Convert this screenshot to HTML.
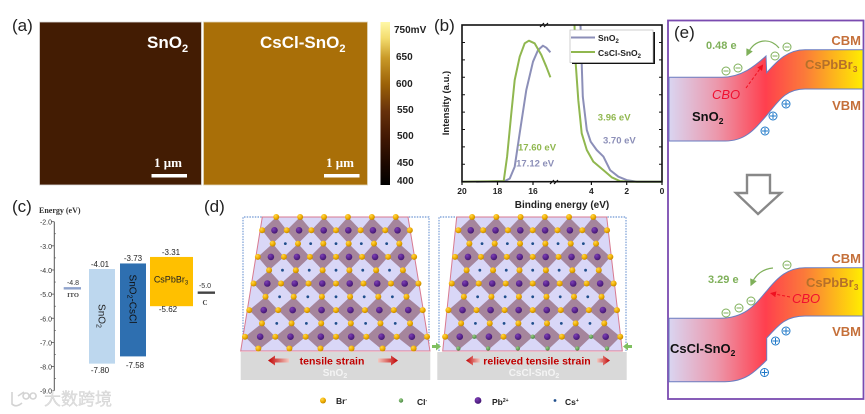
<!DOCTYPE html>
<html>
<head>
<meta charset="utf-8">
<title>SnO2 and CsCl-SnO2 composite figure</title>
<style>
html,body{margin:0;padding:0;background:#fff;width:865px;height:414px;overflow:hidden}
svg{display:block;font-family:"Liberation Sans","Noto Sans CJK SC",sans-serif;filter:blur(.35px)}
.b{font-weight:700}
.s{font-family:"Liberation Serif",serif;font-weight:700}
</style>
</head>
<body>
<svg id="fig" xmlns="http://www.w3.org/2000/svg" width="865" height="414" viewBox="0 0 865 414">
<defs>
<linearGradient id="cbar" x1="0" y1="0" x2="0" y2="1">
<stop offset="0" stop-color="#fff8a8"/><stop offset=".1" stop-color="#f3dc6e"/><stop offset=".22" stop-color="#c99a28"/><stop offset=".38" stop-color="#9c6208"/><stop offset=".55" stop-color="#66300a"/><stop offset=".72" stop-color="#3f1602"/><stop offset=".88" stop-color="#1a0700"/><stop offset="1" stop-color="#000"/>
</linearGradient>
<linearGradient id="band" x1="668" y1="0" x2="863" y2="0" gradientUnits="userSpaceOnUse">
<stop offset="0" stop-color="#d9d6f2"/><stop offset=".25" stop-color="#ec98ac"/><stop offset=".5" stop-color="#ff3f4e"/><stop offset=".7" stop-color="#fb7a3a"/><stop offset="1" stop-color="#ffee00"/>
</linearGradient>
<linearGradient id="arrL" x1="0" x2="1" y1="0" y2="0"><stop offset="0" stop-color="#c00000"/><stop offset="1" stop-color="#f4c8c0"/></linearGradient>
<linearGradient id="arrR" x1="0" x2="1" y1="0" y2="0"><stop offset="0" stop-color="#f4c8c0"/><stop offset="1" stop-color="#c00000"/></linearGradient>
<radialGradient id="br" cx=".35" cy=".3" r=".8"><stop offset="0" stop-color="#ffd84a"/><stop offset=".55" stop-color="#efac00"/><stop offset="1" stop-color="#b07c00"/></radialGradient>
<radialGradient id="pb" cx=".35" cy=".3" r=".8"><stop offset="0" stop-color="#7d3fb4"/><stop offset=".6" stop-color="#56228a"/><stop offset="1" stop-color="#3c1466"/></radialGradient>
<radialGradient id="cl" cx=".35" cy=".3" r=".8"><stop offset="0" stop-color="#9cd088"/><stop offset="1" stop-color="#3f7f3a"/></radialGradient>
<marker id="ga" markerWidth="6" markerHeight="6" refX="3" refY="3" orient="auto"><path d="M0,0 L6,3 L0,6 Z" fill="#7fb05a"/></marker>
<marker id="ra" markerWidth="6" markerHeight="6" refX="4" refY="3" orient="auto"><path d="M0,0 L6,3 L0,6 Z" fill="#f01020"/></marker>
</defs>

<!-- panel a -->
<g>
<text x="12" y="31" font-size="17" fill="#222">(a)</text>
<rect x="39.5" y="22" width="162" height="163" fill="#431c03" stroke="#ddd" stroke-width=".8"/>
<rect x="203.5" y="22" width="164" height="163" fill="#a96f08" stroke="#e2d7bb" stroke-width=".8"/>
<text x="147" y="48" font-size="17" class="b" fill="#fff">SnO<tspan dy="4" font-size="11">2</tspan></text>
<text x="260" y="48" font-size="17" class="b" fill="#fff">CsCl-SnO<tspan dy="4" font-size="11">2</tspan></text>
<text x="154" y="167" font-size="13" class="s" fill="#fff">1 μm</text>
<rect x="151.5" y="174" width="35.5" height="3.5" fill="#fff"/>
<text x="326" y="167" font-size="13" class="s" fill="#fff">1 μm</text>
<rect x="324" y="174" width="35.5" height="3.5" fill="#fff"/>
<rect x="380.5" y="22" width="9.5" height="163" fill="url(#cbar)"/>
<g font-size="10" class="b" fill="#222">
<text x="394" y="33">750mV</text>
<text x="396" y="60">650</text>
<text x="396" y="87">600</text>
<text x="397" y="113">550</text>
<text x="397" y="139">500</text>
<text x="397" y="166">450</text>
<text x="397" y="184">400</text>
</g>
</g>

<!-- panel b -->
<g id="panelB">
<text x="434" y="31" font-size="17" fill="#222">(b)</text>
<text transform="translate(449,103) rotate(-90)" text-anchor="middle" font-size="9.5" class="b" fill="#222">Intensity (a.u.)</text>
<text x="562" y="208" text-anchor="middle" font-size="10" class="b" fill="#222">Binding energy (eV)</text>
</g>

<!-- panel c -->
<g id="panelC">
<text x="12" y="212" font-size="17" fill="#222">(c)</text>
<text x="39" y="213" font-size="8" class="s" fill="#333">Energy (eV)</text>
</g>

<!-- panel d -->
<g id="panelD">
<text x="204" y="212" font-size="17" fill="#222">(d)</text>
</g>
<g>
<rect x="240.7" y="352" width="189.6" height="28" fill="#d9d9d9"/>
<rect x="437.3" y="352" width="189.4" height="28" fill="#d9d9d9"/>
<path d="M268,360.5 L275,355.5 L275,358.5 L289,358.5 L289,362.5 L275,362.5 L275,365.5 Z" fill="url(#arrL)"/>
<path d="M398,360.5 L391,355.5 L391,358.5 L378,358.5 L378,362.5 L391,362.5 L391,365.5 Z" fill="url(#arrR)"/>
<text x="332" y="364.5" text-anchor="middle" font-size="10.5" class="b" fill="#c00000">tensile strain</text>
<text x="335" y="376" text-anchor="middle" font-size="10" class="b" fill="#f4f4f4">SnO<tspan dy="2" font-size="7">2</tspan></text>
<path d="M466,360.5 L473,355.5 L473,358.5 L480,358.5 L480,362.5 L473,362.5 L473,365.5 Z" fill="url(#arrL)"/>
<path d="M610,360.5 L603,355.5 L603,358.5 L597,358.5 L597,362.5 L603,362.5 L603,365.5 Z" fill="url(#arrR)"/>
<text x="537" y="364.5" text-anchor="middle" font-size="10.5" class="b" fill="#c00000">relieved tensile strain</text>
<text x="534" y="376" text-anchor="middle" font-size="10" class="b" fill="#f4f4f4">CsCl-SnO<tspan dy="2" font-size="7">2</tspan></text>
<path d="M441,346.5 L436,342.5 L436,345 L432,345 L432,348 L436,348 L436,350.5 Z" fill="#7fc060"/>
<path d="M623,346.5 L628,342.5 L628,345 L632,345 L632,348 L628,348 L628,350.5 Z" fill="#7fc060"/>
<circle cx="323" cy="400.5" r="3" fill="url(#br)"/>
<text x="336" y="404" font-size="8.5" class="b" fill="#222">Br<tspan dy="-3" font-size="5">-</tspan></text>
<circle cx="401" cy="400.5" r="2.2" fill="url(#cl)"/>
<text x="417" y="405" font-size="8.5" class="b" fill="#222">Cl<tspan dy="-3" font-size="5">-</tspan></text>
<circle cx="478" cy="400.5" r="3.4" fill="url(#pb)"/>
<text x="492" y="405" font-size="8.5" class="b" fill="#222">Pb<tspan dy="-3" font-size="5">2+</tspan></text>
<circle cx="555" cy="400.5" r="1.4" fill="#1f4e8c"/>
<text x="565" y="405" font-size="8.5" class="b" fill="#222">Cs<tspan dy="-3" font-size="5">+</tspan></text>
</g>

<!-- panel e -->
<g>
<rect x="668" y="20.5" width="195.5" height="378.5" fill="#fff" stroke="#7a4bb0" stroke-width="1.8"/>
<text x="674" y="38" font-size="17" fill="#222">(e)</text>
<path d="M669,77.3 L722,77.3 C742,77 755,66 766,56 L766.7,72.7 C778,60 788,49.7 805,49.7 L863,49.7 L863,89 L805,89 C785,89 778,102 767,115 C754,130 745,141 725,141 L669,141 Z" fill="url(#band)" stroke="#6a7cc0" stroke-width="1"/>
<text x="861" y="45" text-anchor="end" font-size="13" class="b" fill="#c5703a">CBM</text>
<text x="805" y="69" font-size="13" class="b" fill="#b5702a">CsPbBr<tspan dy="3" font-size="8.5">3</tspan></text>
<text x="861" y="110" text-anchor="end" font-size="13" class="b" fill="#c5703a">VBM</text>
<text x="692" y="121" font-size="13" class="b" fill="#111">SnO<tspan dy="3" font-size="8.5">2</tspan></text>
<text x="712" y="99" font-size="13" font-style="italic" fill="#f01030">CBO</text>
<path d="M746,88 L762,66" stroke="#f01020" stroke-width="1" stroke-dasharray="3 2" fill="none" marker-end="url(#ra)"/>
<text x="706" y="49" font-size="11" class="b" fill="#7fb05a">0.48 e</text>
<path d="M779,48 C770,37 755,39 748,53" stroke="#7fb05a" stroke-width="1.2" fill="none" marker-end="url(#ga)"/>

<path d="M747,175 L770,175 L770,193 L781,193 L758,214 L736,193 L747,193 Z" fill="#fff" stroke="#888" stroke-width="2.4"/>

<path d="M669,318.3 L720,318.3 C745,318 755,305 766,291.7 L766.7,291 C778,277 788,267.7 805,267.7 L863,267.7 L863,316 L805,316 C785,316 778,326 766.7,338 L766.7,360 C755,372 745,381.7 725,381.7 L669,381.7 Z" fill="url(#band)" stroke="#6a7cc0" stroke-width="1"/>
<text x="861" y="263" text-anchor="end" font-size="13" class="b" fill="#c5703a">CBM</text>
<text x="806" y="287" font-size="13" class="b" fill="#b5702a">CsPbBr<tspan dy="3" font-size="8.5">3</tspan></text>
<text x="861" y="336" text-anchor="end" font-size="13" class="b" fill="#c5703a">VBM</text>
<text x="670" y="353" font-size="13" class="b" fill="#111">CsCl-SnO<tspan dy="3" font-size="8.5">2</tspan></text>
<text x="792" y="303" font-size="13" font-style="italic" fill="#f01030">CBO</text>
<path d="M790,297 L772,293.5" stroke="#f01020" stroke-width="1" stroke-dasharray="3 2" fill="none" marker-end="url(#ra)"/>
<text x="708" y="283" font-size="11" class="b" fill="#7fb05a">3.29 e</text>
<path d="M773,268 C763,269 756,274 752,283" stroke="#7fb05a" stroke-width="1.2" fill="none" marker-end="url(#ga)"/>
<g id="carriers"></g>
</g>

<!-- watermark -->
<g opacity=".9">
<path d="M12,392 L12,404 Q16,408 22,403 M18,396 L24,392 M26,393 a3,3 0 1 0 .1,0 M33,393 a3,3 0 1 0 .1,0" fill="none" stroke="#cfcfcf" stroke-width="1.6"/>
<text x="44" y="405" font-size="17" fill="#dcdcdc" style='font-family:"Noto Sans CJK SC",sans-serif' stroke="#c8c8c8" stroke-width=".3">大数跨境</text>
</g>
</svg>

<script>
var NS = 'http://www.w3.org/2000/svg';
function mk(parent, tag, attrs, txt) {
  var e = document.createElementNS(NS, tag);
  for (var k in attrs) e.setAttribute(k, attrs[k]);
  if (txt !== undefined) e.textContent = txt;
  parent.appendChild(e);
  return e;
}
/* add a base string, a lowered subscript and optional trailing text as tspans */
function subText(el, base, sub, subSize, after) {
  mk(el, 'tspan', {}, base);
  mk(el, 'tspan', { dy: 2, 'font-size': subSize }, sub);
  if (after) mk(el, 'tspan', { dy: -2 }, after);
}

/* ---------- panel b data ---------- */
var highEnergySnO2 = [19.2, 17.6, 17.31, 17.03, 16.75, 16.38, 16.0, 15.72, 15.44, 15.25, 15.02];
var highIntensitySnO2 = [0, 0.004, 0.02, 0.096, 0.31, 0.585, 0.766, 0.84, 0.868, 0.855, 0.826];
var highEnergyCsCl = [19.95, 17.65, 17.46, 17.22, 17.03, 16.75, 16.47, 16.23, 15.91, 15.53, 15.25, 15.02];
var highIntensityCsCl = [0, 0.004, 0.16, 0.436, 0.649, 0.798, 0.883, 0.9, 0.883, 0.809, 0.734, 0.666];
var lowEnergySnO2 = [4.62, 4.55, 4.49, 4.26, 4.04, 3.70, 3.32, 2.94, 2.47, 2.0, 1.43, 0.02];
var lowIntensitySnO2 = [1, 0.755, 0.543, 0.33, 0.255, 0.202, 0.16, 0.074, 0.032, 0.01, 0, 0];
var lowEnergyCsCl = [4.96, 4.89, 4.74, 4.55, 4.26, 3.89, 3.32, 2.85, 2.38, 1.81, 0.02];
var lowIntensityCsCl = [1, 0.755, 0.521, 0.309, 0.202, 0.128, 0.074, 0.028, 0.004, 0, 0];
var highTicks = [20, 18, 16];
var lowTicks = [4, 2, 0];
var onsetLabels = ['3.96 eV', '3.70 eV', '17.60 eV', '17.12 eV'];
var onsetEnergy = [3.96, 3.70, 17.60, 17.12];
var onsetRow = [0.39, 0.244, 0.2, 0.097];

function xHigh(v) { return 462 + (20 - v) * 17.75; }
function xLow(v) { return 662 - v * 17.65; }
function yInt(v) { return 181.7 - v * 156.7; }
function toPoints(es, is, xf) {
  return es.map(function (e, i) { return xf(e).toFixed(1) + ',' + yInt(is[i]).toFixed(1); }).join(' ');
}

var gb = document.getElementById('panelB');
var seriesColor = { sno2: '#8c8fb8', cscl: '#90b74f' };

var c1 = mk(gb, 'polyline', { points: toPoints(highEnergySnO2, highIntensitySnO2, xHigh), fill: 'none', stroke: seriesColor.sno2, 'stroke-width': 2, 'stroke-linejoin': 'round' });


var c2 = mk(gb, 'polyline', { points: toPoints(lowEnergySnO2, lowIntensitySnO2, xLow), fill: 'none', stroke: seriesColor.sno2, 'stroke-width': 2, 'stroke-linejoin': 'round' });


var c3 = mk(gb, 'polyline', { points: toPoints(highEnergyCsCl, highIntensityCsCl, xHigh), fill: 'none', stroke: seriesColor.cscl, 'stroke-width': 2, 'stroke-linejoin': 'round' });


var c4 = mk(gb, 'polyline', { points: toPoints(lowEnergyCsCl, lowIntensityCsCl, xLow), fill: 'none', stroke: seriesColor.cscl, 'stroke-width': 2, 'stroke-linejoin': 'round' });



var frameB = mk(gb, 'rect', { x: 462, y: 25, width: 200, height: 156.7, fill: 'none', stroke: '#111', 'stroke-width': 1.6 });



var brk1 = mk(gb, 'path', { d: 'M540,27 L544,23 M544,27 L548,23 M550,184 L554,180 M554,184 L558,180', stroke: '#111', 'stroke-width': 1.2, fill: 'none' });



highTicks.forEach(function (t) {
  var x = xHigh(t);
  var tk = mk(gb, 'line', { x1: x, x2: x, y1: 181.7, y2: 185, stroke: '#111', 'stroke-width': 1.2 });
  
  
  var lb = mk(gb, 'text', { x: x, y: 194, 'text-anchor': 'middle', 'font-size': 8.5, 'font-weight': 700, fill: '#222' }, String(t));
  
  
});
lowTicks.forEach(function (t) {
  var x = xLow(t);
  var tk = mk(gb, 'line', { x1: x, x2: x, y1: 181.7, y2: 185, stroke: '#111', 'stroke-width': 1.2 });
  
  
  var lb = mk(gb, 'text', { x: x, y: 194, 'text-anchor': 'middle', 'font-size': 8.5, 'font-weight': 700, fill: '#222' }, String(t));
  
  
});
for (var yi = 0; yi <= 8; yi++) {
  var yy = 181.7 - yi * 17.4;
  var ytk = mk(gb, 'path', { d: 'M462,' + yy + ' l3,0 M662,' + yy + ' l-3,0', stroke: '#111', 'stroke-width': 1 });
  
  
}

var legBg = mk(gb, 'rect', { x: 572, y: 32, width: 83, height: 32, fill: '#111' });


var leg = mk(gb, 'rect', { x: 570, y: 30, width: 83, height: 32.5, fill: '#fff', stroke: '#bbb', 'stroke-width': .7 });


var l1 = mk(gb, 'line', { x1: 571, x2: 595, y1: 37.5, y2: 37.5, stroke: seriesColor.sno2, 'stroke-width': 2 });


var l2 = mk(gb, 'line', { x1: 571, x2: 595, y1: 52, y2: 52, stroke: seriesColor.cscl, 'stroke-width': 2 });


var lt1 = mk(gb, 'text', { x: 598, y: 41, 'font-size': 8.5, 'font-weight': 700, fill: '#222' });


subText(lt1, 'SnO', '2', 6);
var lt2 = mk(gb, 'text', { x: 598, y: 56, 'font-size': 8.5, 'font-weight': 700, fill: '#222' });


subText(lt2, 'CsCl-SnO', '2', 6);

var onsetColors = [seriesColor.cscl, seriesColor.sno2, seriesColor.cscl, seriesColor.sno2];
var onsetOffset = [5.7, 6.3, 13.4, 3];
onsetLabels.forEach(function (t, i) {
  var x = (i < 2 ? xLow(onsetEnergy[i]) : xHigh(onsetEnergy[i])) + onsetOffset[i];
  var ann = mk(gb, 'text', { x: x, y: yInt(onsetRow[i]), 'font-size': 9.5, 'font-weight': 700, fill: onsetColors[i] }, t);
  
  
});

/* ---------- panel c data ---------- */
var energyTicks = [-2, -3, -4, -5, -6, -7, -8, -9];
var energyTickLabels = ['-2.0', '-3.0', '-4.0', '-5.0', '-6.0', '-7.0', '-8.0', '-9.0'];
var barNames = ['sno2', 'sno2-cscl', 'cspbbr3'];
var barTop = [-3.96, -3.73, -3.46];
var barBottom = [-7.88, -7.58, -5.5];
var levelNames = ['ito', 'carbon'];
var levelValues = [-4.76, -4.94];
var barTopLabels = ['-4.01', '-3.73', '-3.31'];
var barBottomLabels = ['-7.80', '-7.58', '-5.62'];

function yE(v) { return 221.7 + (-2 - v) * 24.14; }

var gc = document.getElementById('panelC');
var ax = mk(gc, 'line', { x1: 54.3, x2: 54.3, y1: yE(-2), y2: yE(-9), stroke: '#555', 'stroke-width': 1 });


energyTicks.forEach(function (t, i) {
  var tk = mk(gc, 'line', { x1: 51.5, x2: 54.3, y1: yE(t), y2: yE(t), stroke: '#555', 'stroke-width': .8 });
  
  
  var lb = mk(gc, 'text', { x: 52, y: yE(t) + 3, 'text-anchor': 'end', 'font-size': 7, fill: '#333' }, energyTickLabels[i]);
  
  
  if (i < 7) {
    var mt = mk(gc, 'line', { x1: 54.3, x2: 56, y1: yE(t - 0.5), y2: yE(t - 0.5), stroke: '#555', 'stroke-width': .6 });
    
    
  }
});
var barLeft = [89, 120, 150];
var barWidth = [26, 26, 43];
var barColor = ['#bdd7ee', '#2e6fb0', '#ffc000'];
barNames.forEach(function (n, i) {
  var r = mk(gc, 'rect', { x: barLeft[i], y: yE(barTop[i]), width: barWidth[i], height: yE(barBottom[i]) - yE(barTop[i]), fill: barColor[i] });
  
  
});
var topLabelX = [100, 133, 171];
var topLabelY = [267, 261, 255];
var botLabelX = [100, 135, 168];
var botLabelY = [373, 368, 312];
barNames.forEach(function (n, i) {
  var a = mk(gc, 'text', { x: topLabelX[i], y: topLabelY[i], 'text-anchor': 'middle', 'font-size': 8, fill: '#222' }, barTopLabels[i]);
  
  
  var b = mk(gc, 'text', { x: botLabelX[i], y: botLabelY[i], 'text-anchor': 'middle', 'font-size': 8, fill: '#222' }, barBottomLabels[i]);
  
  
});
var levelX = [63.7, 197.7];
var levelColor = ['#8fa3cc', '#444'];
levelNames.forEach(function (n, i) {
  var r = mk(gc, 'rect', { x: levelX[i], y: yE(levelValues[i]) - 1.2, width: 17.3, height: 2.4, fill: levelColor[i] });
  
  
});
var t1 = mk(gc, 'text', { x: 73, y: 285, 'text-anchor': 'middle', 'font-size': 7, fill: '#333' }, '-4.8');


var t2 = mk(gc, 'text', { x: 73, y: 297, 'text-anchor': 'middle', 'font-size': 6.5, 'font-weight': 700, fill: '#444', style: 'font-family:"Liberation Serif",serif' }, 'ITO');


var t3 = mk(gc, 'text', { x: 205, y: 288, 'text-anchor': 'middle', 'font-size': 7, fill: '#333' }, '-5.0');


var t4 = mk(gc, 'text', { x: 205, y: 305, 'text-anchor': 'middle', 'font-size': 7, 'font-weight': 700, fill: '#444', style: 'font-family:"Liberation Serif",serif' }, 'C');


var bt1 = mk(gc, 'text', { transform: 'translate(98.5,316) rotate(90)', 'text-anchor': 'middle', 'font-size': 10, fill: '#222' });


subText(bt1, 'SnO', '2', 7);
var bt2 = mk(gc, 'text', { transform: 'translate(129.5,299) rotate(90)', 'text-anchor': 'middle', 'font-size': 10, fill: '#111' });


subText(bt2, 'SnO', '2', 7, '-CsCl');
var bt3 = mk(gc, 'text', { x: 171, y: 282.5, 'text-anchor': 'middle', 'font-size': 9, fill: '#222' });


subText(bt3, 'CsPbBr', '3', 6);

/* ---------- panel d lattice ---------- */
var gd = document.getElementById('panelD');
function lattice(cfg) {
  var g = mk(gd, 'g', {});
  
  
  var dot = mk(g, 'path', { d: 'M' + cfg.dl + ',351 L' + cfg.dl + ',217 L' + cfg.dr + ',217 L' + cfg.dr + ',351', fill: 'none', stroke: '#4a7cc8', 'stroke-width': .9, 'stroke-dasharray': '1.5 1.2' });
  
  
  var tr = mk(g, 'polygon', { points: cfg.tl + ',217 ' + cfg.tr + ',217 ' + cfg.br + ',351 ' + cfg.bl + ',351', fill: '#d9d7f7', stroke: '#d87a90', 'stroke-width': 1 });
  
  
  function W(v) { return (cfg.w0 + cfg.dw * (v - .5)) / 6; }
  function Y(v) { return 217 + v * 26.6; }
  function px(i, v) { return cfg.cx + (i - 2.5) * W(v); }   /* integer rows and Pb */
  function hx(j, v) { return cfg.cx + (j - 3) * W(v); }     /* half rows */
  for (var r = 0; r < 5; r++) {
    for (var i = 0; i < 6; i++) {
      var v = r + .5;
      var di = mk(g, 'polygon', { points: px(i, r) + ',' + Y(r) + ' ' + hx(i + 1, v) + ',' + Y(v) + ' ' + px(i, r + 1) + ',' + Y(r + 1) + ' ' + hx(i, v) + ',' + Y(v), fill: '#a5859c' });
      
      
    }
  }
  for (var r2 = 1; r2 < 5; r2++) {
    for (var i2 = 0; i2 < 5; i2++) {
      var cs = mk(g, 'circle', { cx: cfg.cx + (i2 - 2) * W(r2), cy: Y(r2), r: 1.4, fill: '#1f4e8c' });
      
      
    }
  }
  for (var r3 = 0; r3 < 5; r3++) {
    for (var i3 = 0; i3 < 6; i3++) {
      var pb = mk(g, 'circle', { cx: px(i3, r3 + .5), cy: Y(r3 + .5), r: 3.3, fill: 'url(#pb)' });
      
      
    }
  }
  for (var r4 = 0; r4 <= 5; r4++) {
    for (var i4 = 0; i4 < 6; i4++) {
      var isCl = cfg.cl && r4 === 5;
      var a1 = mk(g, 'circle', { cx: px(i4, r4), cy: Y(r4) - (r4 === 5 ? 1.5 : 0), r: isCl ? 2.2 : 3, fill: isCl ? 'url(#cl)' : 'url(#br)' });
      
      
    }
  }
  for (var r5 = 0; r5 < 5; r5++) {
    for (var j5 = 0; j5 <= 6; j5++) {
      var cl2 = cfg.cl && r5 === 4 && (j5 === 1 || j5 === 3 || j5 === 5);
      var a2 = mk(g, 'circle', { cx: hx(j5, r5 + .5), cy: Y(r5 + .5), r: cl2 ? 2.2 : 3, fill: cl2 ? 'url(#cl)' : 'url(#br)' });
      
      
    }
  }
}
lattice({ name: 'sno2-lattice', dl: 243, dr: 429, tl: 262.3, tr: 408, bl: 240.7, br: 430, cx: 336, w0: 147.7, dw: 8.58, cl: false });
lattice({ name: 'cscl-sno2-lattice', dl: 439, dr: 626, tl: 456.7, tr: 606.7, bl: 442.7, br: 622.3, cx: 532.7, w0: 148.7, dw: 6.6, cl: true });

/* ---------- panel e carriers ---------- */
var carriers = document.getElementById('carriers');
var electronX = [726, 738, 775, 787, 726, 739, 751, 787];
var electronY = [71, 68, 56, 47, 313, 308, 301, 265];
var holeX = [786, 773, 765, 786, 775.5, 764.5];
var holeY = [104, 116, 131, 331, 341, 372.5];
electronX.forEach(function (x, i) {
  var y = electronY[i];
  var e = mk(carriers, 'g', { fill: 'none', stroke: '#7fb05a', 'stroke-width': 1 });
  
  
  mk(e, 'circle', { cx: x, cy: y, r: 4 });
  mk(e, 'line', { x1: x - 2.5, x2: x + 2.5, y1: y, y2: y });
});
holeX.forEach(function (x, i) {
  var y = holeY[i];
  var h = mk(carriers, 'g', { fill: 'none', stroke: '#1f78c8', 'stroke-width': 1 });
  
  
  mk(h, 'circle', { cx: x, cy: y, r: 4 });
  mk(h, 'path', { d: 'M' + (x - 3) + ',' + y + ' h6 M' + x + ',' + (y - 3) + ' v6' });
});
</script>
</body>
</html>
